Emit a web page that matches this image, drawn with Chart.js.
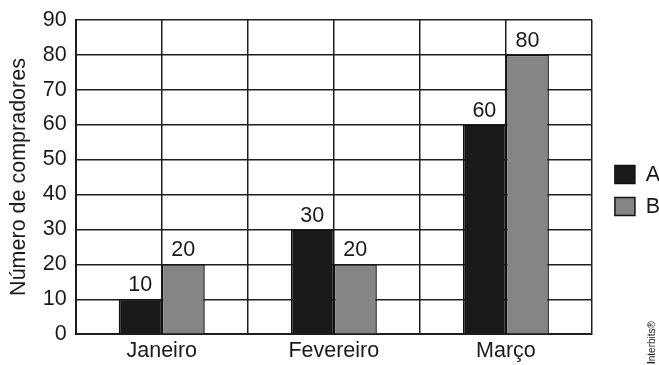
<!DOCTYPE html>
<html>
<head>
<meta charset="utf-8">
<script src="https://cdn.jsdelivr.net/npm/chart.js@4/dist/chart.umd.min.js"></script>
<style>
  html, body { margin: 0; padding: 0; background: #fff; }
  #wrap { width: 659px; height: 365px; }
</style>
</head>
<body>
<div id="wrap"><canvas id="c" width="659" height="365"></canvas></div>
<script>
const months = ['Janeiro', 'Fevereiro', 'Março'];
const seriesA = [10, 30, 60];
const seriesB = [20, 20, 80];
const yTicks = [0, 10, 20, 30, 40, 50, 60, 70, 80, 90];

const FONT = "'Liberation Sans', Arial, sans-serif";
const TEXT = '#1a1a1a';
const LINE = '#1e1e1e';
const SIZE = 21.5;

// value labels above each bar
const valueLabels = {
  id: 'valueLabels',
  afterDatasetsDraw(chart) {
    const ctx = chart.ctx;
    ctx.save();
    ctx.font = SIZE + 'px ' + FONT;
    ctx.fillStyle = TEXT;
    ctx.textAlign = 'center';
    ctx.textBaseline = 'bottom';
    chart.data.datasets.forEach((ds, i) => {
      chart.getDatasetMeta(i).data.forEach((bar, j) => {
        ctx.fillText(String(ds.data[j]), bar.x, bar.y - 3);
      });
    });
    ctx.restore();
  }
};

// small vertical credit in the lower right corner
const credit = {
  id: 'credit',
  afterDraw(chart) {
    const ctx = chart.ctx;
    ctx.save();
    ctx.translate(657, 364);
    ctx.rotate(-Math.PI / 2);
    ctx.fillStyle = '#222';
    ctx.textBaseline = 'bottom';
    ctx.font = 'bold 10px ' + FONT;
    ctx.fillText('I', 0, 0);
    const w = ctx.measureText('I').width;
    ctx.font = '10px ' + FONT;
    ctx.fillText('nterbits®', w, 0);
    ctx.restore();
  }
};

new Chart(document.getElementById('c'), {
  type: 'bar',
  data: {
    labels: months,
    datasets: [
      { label: 'A', data: seriesA, backgroundColor: '#1a1a1a', borderColor: '#111', borderWidth: 1.5 },
      { label: 'B', data: seriesB, backgroundColor: '#858585', borderColor: '#111', borderWidth: 1.5 }
    ]
  },
  options: {
    responsive: false,
    animation: false,
    layout: { padding: { top: 0, right: -11, left: 6, bottom: -3 } },
    datasets: { bar: { categoryPercentage: 0.5, barPercentage: 1.0 } },
    plugins: {
      legend: {
        position: 'right',
        // blank title nudges the legend entries slightly downwards
        title: { display: true, text: ' ', padding: 6, font: { size: 1 } },
        labels: {
          boxWidth: 20,
          boxHeight: 18,
          padding: 10.5,
          color: TEXT,
          font: { family: FONT, size: SIZE }
        }
      },
      tooltip: { enabled: false }
    },
    scales: {
      x: {
        offset: true,
        grid: { offset: true, color: LINE, lineWidth: 1.5, drawTicks: false },
        border: { color: LINE, width: 2 },
        ticks: { color: TEXT, padding: 4, font: { family: FONT, size: SIZE } }
      },
      // second category axis: only supplies the vertical lines through each month's centre
      x2: {
        type: 'category',
        labels: months,
        position: 'bottom',
        offset: true,
        grid: { offset: false, color: LINE, lineWidth: 1.5, drawTicks: false },
        border: { display: false },
        ticks: { display: false },
        afterFit(axis) { axis.height = 0; }
      },
      y: {
        min: 0,
        max: 90,
        afterBuildTicks(axis) { axis.ticks = yTicks.map(v => ({ value: v })); },
        grid: { color: LINE, lineWidth: 1.5, drawTicks: false },
        border: { color: LINE, width: 2 },
        ticks: { color: TEXT, padding: 9, font: { family: FONT, size: SIZE, lineHeight: 1.0 } },
        title: {
          display: true,
          text: 'Número de compradores',
          color: TEXT,
          padding: { top: 0, bottom: 2 },
          font: { family: FONT, size: SIZE }
        }
      },
      // empty right-hand axis: keeps a gap between the plot and the legend
      gap: {
        type: 'linear',
        position: 'right',
        display: true,
        grid: { display: false, drawTicks: false },
        border: { display: false },
        ticks: { display: false },
        afterFit(axis) { axis.width = 12.5; }
      }
    }
  },
  plugins: [valueLabels, credit]
});
</script>
</body>
</html>
